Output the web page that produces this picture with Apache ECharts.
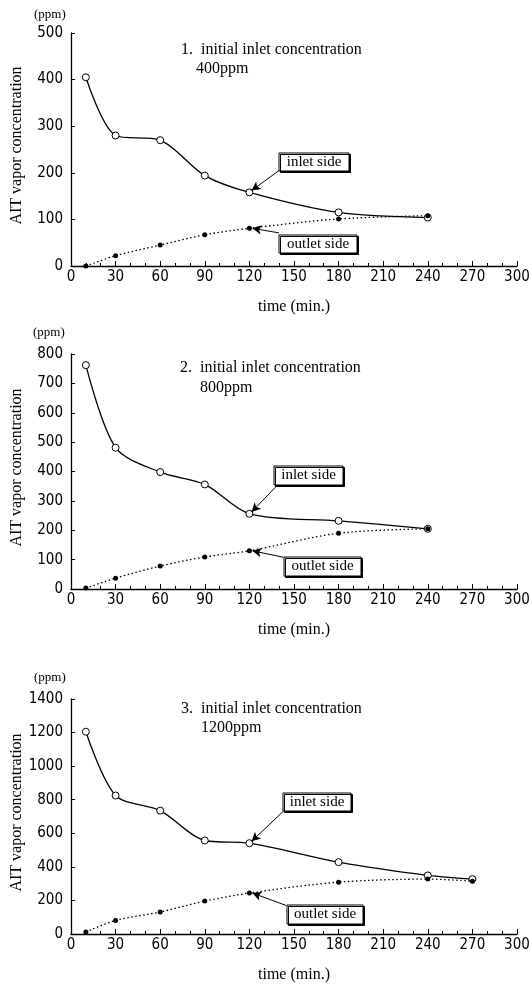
<!DOCTYPE html>
<html lang="en">
<head>
<meta charset="UTF-8">
<title>AIT vapor concentration</title>
<style>
  html, body { margin: 0; padding: 0; background: #fff; }
  #main { width: 529px; height: 986px; }
</style>
</head>
<body>
<div id="main"></div>
<script src="https://cdn.jsdelivr.net/npm/echarts@6/dist/echarts.min.js"></script>
<script>
// data
var times = [10, 30, 60, 90, 120, 180, 240];
var times3 = [10, 30, 60, 90, 120, 180, 240, 270];
var inlet1 = [405, 280, 270, 194, 158, 115, 104];
var outlet1 = [0, 22, 45, 67, 81, 101, 108];
var inlet2 = [762, 481, 398, 356, 256, 232, 205];
var outlet2 = [3, 37, 78, 109, 130, 190, 205];
var inlet3 = [1205, 825, 735, 557, 541, 428, 349, 327];
var outlet3 = [12, 81, 131, 196, 244, 309, 327, 315];
var yMax = [500, 800, 1400];
var yStep = [100, 100, 200];
var titles = ['1.  initial inlet concentration', '2.  initial inlet concentration', '3.  initial inlet concentration'];
var subTitles = ['400ppm', '800ppm', '1200ppm'];

var serif = '"Liberation Serif", "DejaVu Serif", serif';
var narrow = '"Liberation Sans Narrow", "DejaVu Sans Condensed", sans-serif';

// layout of the three panels (pixels)
var grids = [
    { left: 71, right: 12, top: 33, height: 233, outerBoundsMode: 'none', containLabel: false },
    { left: 71, right: 12, top: 354, height: 235, outerBoundsMode: 'none', containLabel: false },
    { left: 71, right: 12, top: 699, height: 235, outerBoundsMode: 'none', containLabel: false }
];

var pairs = [
    { t: times, inlet: inlet1, outlet: outlet1 },
    { t: times, inlet: inlet2, outlet: outlet2 },
    { t: times3, inlet: inlet3, outlet: outlet3 }
];

// where the arrows start (data coords, near the label boxes)
var arrowFrom = [
    { inlet: [140, 205], outlet: [140, 71] },
    { inlet: [138, 349], outlet: [143, 108] },
    { inlet: [143, 733], outlet: [145, 169] }
];

var xAxes = [], yAxes = [], series = [];
grids.forEach(function (g, i) {
    xAxes.push({
        type: 'value', gridIndex: i, min: 0, max: 300, interval: 30,
        name: 'time (min.)', nameLocation: 'middle', nameGap: 33,
        nameTextStyle: { fontFamily: serif, fontSize: 16, color: '#000' },
        axisLine: { lineStyle: { color: '#000', width: 1.3 } },
        axisTick: { inside: true, length: 5, lineStyle: { color: '#000' } },
        minorTick: { show: true, splitNumber: 3, length: 3, lineStyle: { color: '#000' } },
        axisLabel: { fontFamily: narrow, fontSize: 15, color: '#000', margin: 4 },
        splitLine: { show: false }
    });
    yAxes.push({
        type: 'value', gridIndex: i, min: 0, max: yMax[i], interval: yStep[i],
        axisLine: { show: true, lineStyle: { color: '#000', width: 1.3 } },
        axisTick: { show: true, inside: true, length: 4, lineStyle: { color: '#000' } },
        axisLabel: { fontFamily: narrow, fontSize: 15, color: '#000', margin: 8,
            formatter: function (v) { return String(v); } },
        splitLine: { show: false }
    });
    var p = pairs[i];
    var k = 4; // the 120 min point the arrows point at
    var arrowStyle = { color: '#000', width: 1, type: 'solid' };
    series.push({
        type: 'line', xAxisIndex: i, yAxisIndex: i, smooth: 0.3,
        data: p.t.map(function (t, j) { return [t, p.inlet[j]]; }),
        symbol: 'circle', symbolSize: 7,
        itemStyle: { color: '#fff', borderColor: '#000', borderWidth: 1 },
        lineStyle: { color: '#000', width: 1.3 },
        markLine: {
            silent: true, symbol: ['none', 'arrow'], symbolSize: [7, 9],
            label: { show: false }, lineStyle: arrowStyle,
            data: [[{ coord: arrowFrom[i].inlet }, { coord: [p.t[k] + 1.5, p.inlet[k] + yMax[i] * 0.008] }]]
        }
    });
    series.push({
        type: 'line', xAxisIndex: i, yAxisIndex: i, smooth: 0.3,
        data: p.t.map(function (t, j) { return [t, p.outlet[j]]; }),
        symbol: 'circle', symbolSize: 5,
        itemStyle: { color: '#000' },
        lineStyle: { color: '#000', width: 1.3, type: [1.5, 2.5] },
        markLine: {
            silent: true, symbol: ['none', 'arrow'], symbolSize: [7, 9],
            label: { show: false }, lineStyle: arrowStyle,
            data: [[{ coord: arrowFrom[i].outlet }, { coord: [p.t[k] + 2, p.outlet[k]] }]]
        }
    });
});

// text annotations and label boxes
var boxes = [
    { x: 279, y: 153, w: 70, h: 18, text: 'inlet side' },
    { x: 279, y: 235, w: 78, h: 18, text: 'outlet side' },
    { x: 274, y: 466, w: 69, h: 19, text: 'inlet side' },
    { x: 284, y: 557, w: 77, h: 19, text: 'outlet side' },
    { x: 283, y: 793, w: 68, h: 18, text: 'inlet side' },
    { x: 287, y: 905, w: 76, h: 19, text: 'outlet side' }
];
var titlePos = [{ x: 181, y: 51, y2: 70, x2: 196 }, { x: 180, y: 369, y2: 389, x2: 200 }, { x: 181, y: 710, y2: 729, x2: 201 }];
var ppmPos = [{ x: 34, y: 15 }, { x: 33, y: 333 }, { x: 34, y: 678 }];

var graphic = [];
titlePos.forEach(function (tp, i) {
    graphic.push({ type: 'text', left: tp.x, top: tp.y - 9, style: { text: titles[i], font: '16px ' + serif, fill: '#000' } });
    graphic.push({ type: 'text', left: tp.x2, top: tp.y2 - 9, style: { text: subTitles[i], font: '16px ' + serif, fill: '#000' } });
    graphic.push({ type: 'text', left: ppmPos[i].x, top: ppmPos[i].y - 7, style: { text: '(ppm)', font: '13px ' + serif, fill: '#000' } });
});
// vertical axis titles
grids.forEach(function (g) {
    graphic.push({
        type: 'text', x: 17, y: g.top + g.height / 2 - 4, rotation: Math.PI / 2,
        style: { text: 'AIT vapor concentration', font: '16px ' + serif, fill: '#000', align: 'center', verticalAlign: 'middle' }
    });
});
boxes.forEach(function (b) {
    graphic.push({
        type: 'rect', shape: { x: b.x, y: b.y, width: b.w, height: b.h },
        style: { fill: '#fff', stroke: '#000', lineWidth: 1, shadowColor: '#000', shadowOffsetX: 1.5, shadowOffsetY: 1.5, shadowBlur: 0 },
        z: 100
    });
    graphic.push({
        type: 'text', x: b.x + b.w / 2, y: b.y + b.h / 2,
        style: { text: b.text, font: '15px ' + serif, fill: '#000', align: 'center', verticalAlign: 'middle' },
        z: 101
    });
});

var chart = echarts.init(document.getElementById('main'));
chart.setOption({
    animation: false,
    backgroundColor: '#fff',
    grid: grids,
    xAxis: xAxes,
    yAxis: yAxes,
    series: series,
    graphic: graphic
});
</script>
</body>
</html>
